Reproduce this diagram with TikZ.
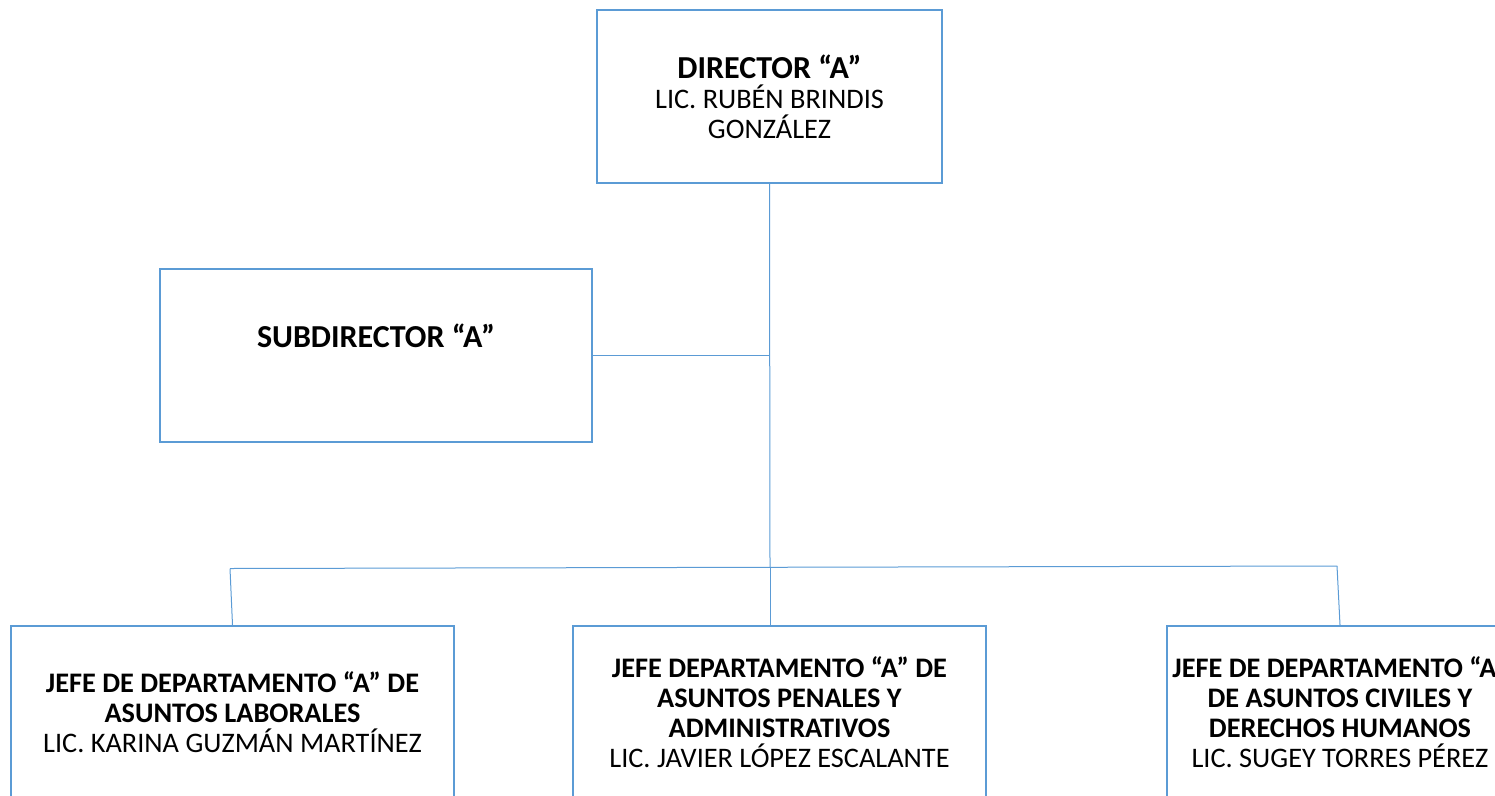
\documentclass[tikz,border=0pt]{standalone}
\usepackage{fontspec}
\setmainfont{Carlito}
\definecolor{orgblue}{HTML}{5B9BD5}

\tikzset{
  puesto/.style={draw=orgblue,line width=2.2pt,align=center,inner sep=0pt,
    minimum height=173pt,font=\fontsize{28.3}{30}\selectfont},
  enlace/.style={draw=orgblue,line width=1pt}
}
\newcommand{\cargotit}[1]{{\bfseries\fontsize{32}{32}\selectfont #1}}

\begin{document}
\begin{tikzpicture}[x=1pt,y=-1pt]
\useasboundingbox (0,0) rectangle (1495,795);

% cajas
\node[puesto,minimum width=345pt] (dir) at (769.5,96.5)
  {\cargotit{DIRECTOR “A”}\\ LIC. RUBÉN BRINDIS\\ GONZÁLEZ};
\node[puesto,minimum width=432pt] (sub) at (376,355.5) {};
\node[font=\bfseries\fontsize{32}{32}\selectfont] (subtxt) at (376,336) {SUBDIRECTOR “A”};

\node[puesto,minimum width=443pt] (lab) at (232.5,712.5)
  {\textbf{JEFE DE DEPARTAMENTO “A” DE}\\ \textbf{ASUNTOS LABORALES}\\ LIC. KARINA GUZMÁN MARTÍNEZ};
\node[puesto,minimum width=413pt] (pen) at (779.5,712.5)
  {\textbf{JEFE DEPARTAMENTO “A” DE}\\ \textbf{ASUNTOS PENALES Y}\\ \textbf{ADMINISTRATIVOS}\\ LIC. JAVIER LÓPEZ ESCALANTE};
\node[puesto,minimum width=346pt] (civ) at (1340,712.5)
  {\textbf{JEFE DE DEPARTAMENTO “A”}\\ \textbf{DE ASUNTOS CIVILES Y}\\ \textbf{DERECHOS HUMANOS}\\ LIC. SUGEY TORRES PÉREZ};

% lineas
\coordinate (b1) at (230,568.5);
\coordinate (b2) at (770,567);
\coordinate (b3) at (1337,566);

\draw[enlace] (dir.south) -- (b2);
\draw[enlace] (sub.east) -- (sub.east -| dir.south);
\draw[enlace] (b1) -- (b3);
\draw[enlace] (b1) -- (lab.north);
\draw[enlace] (b2) -- (b2 |- pen.north);
\draw[enlace] (b3) -- (civ.north);
\end{tikzpicture}
\end{document}
